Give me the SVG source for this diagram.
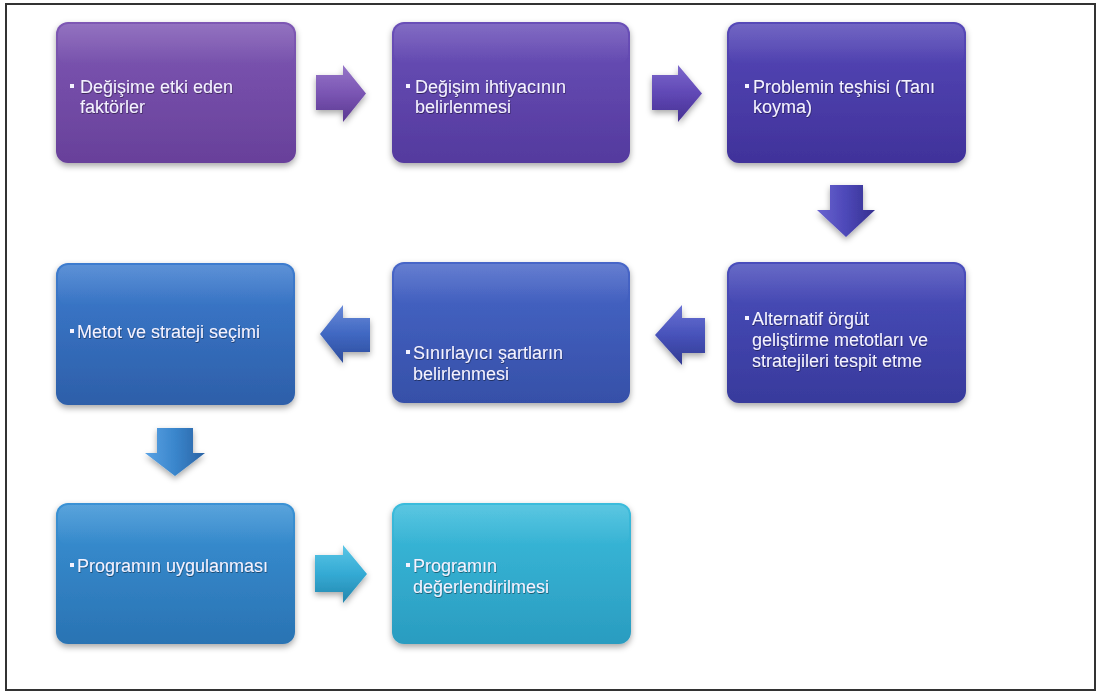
<svg xmlns="http://www.w3.org/2000/svg" width="1097" height="693" viewBox="0 0 1097 693">
<defs>
<filter id="sh" x="-10%" y="-10%" width="120%" height="130%">
<feDropShadow dx="0" dy="3" stdDeviation="3" flood-color="#000" flood-opacity="0.35"/>
</filter>
<filter id="tsh" x="-5%" y="-20%" width="110%" height="150%">
<feDropShadow dx="0.5" dy="1" stdDeviation="0.6" flood-color="#000" flood-opacity="0.45"/>
</filter>
<linearGradient id="g1" x1="0" y1="0" x2="0" y2="1"><stop offset="0" stop-color="#7e58b4"/><stop offset="1" stop-color="#68409a"/></linearGradient>
<linearGradient id="g2" x1="0" y1="0" x2="0" y2="1"><stop offset="0" stop-color="#6a50b8"/><stop offset="1" stop-color="#543a9e"/></linearGradient>
<linearGradient id="g3" x1="0" y1="0" x2="0" y2="1"><stop offset="0" stop-color="#5648b8"/><stop offset="1" stop-color="#40329a"/></linearGradient>
<linearGradient id="g4" x1="0" y1="0" x2="0" y2="1"><stop offset="0" stop-color="#4a4ebc"/><stop offset="1" stop-color="#383a9c"/></linearGradient>
<linearGradient id="g5" x1="0" y1="0" x2="0" y2="1"><stop offset="0" stop-color="#4766c8"/><stop offset="1" stop-color="#3650a8"/></linearGradient>
<linearGradient id="g6" x1="0" y1="0" x2="0" y2="1"><stop offset="0" stop-color="#3d7ccf"/><stop offset="1" stop-color="#2d5fa9"/></linearGradient>
<linearGradient id="g7" x1="0" y1="0" x2="0" y2="1"><stop offset="0" stop-color="#3a92d5"/><stop offset="1" stop-color="#2a73b3"/></linearGradient>
<linearGradient id="g8" x1="0" y1="0" x2="0" y2="1"><stop offset="0" stop-color="#3bbcdc"/><stop offset="1" stop-color="#2a9cc0"/></linearGradient>
<linearGradient id="gloss" x1="0" y1="0" x2="0" y2="1"><stop offset="0" stop-color="#fff" stop-opacity="0.16"/><stop offset="1" stop-color="#fff" stop-opacity="0"/></linearGradient>
<linearGradient id="a1" x1="0" y1="0" x2="0" y2="1"><stop offset="0" stop-color="#9676c8"/><stop offset="0.5" stop-color="#7a55b3"/><stop offset="1" stop-color="#5a3890"/></linearGradient>
<linearGradient id="a2" x1="0" y1="0" x2="0" y2="1"><stop offset="0" stop-color="#7c68cc"/><stop offset="0.5" stop-color="#6048b5"/><stop offset="1" stop-color="#453092"/></linearGradient>
<linearGradient id="a3" x1="0" y1="0" x2="1" y2="0"><stop offset="0" stop-color="#6a64d0"/><stop offset="0.5" stop-color="#4d48b8"/><stop offset="1" stop-color="#35308f"/></linearGradient>
<linearGradient id="a4" x1="0" y1="0" x2="0" y2="1"><stop offset="0" stop-color="#6a72d4"/><stop offset="0.5" stop-color="#4752ba"/><stop offset="1" stop-color="#313a92"/></linearGradient>
<linearGradient id="a5" x1="0" y1="0" x2="0" y2="1"><stop offset="0" stop-color="#6a8ad8"/><stop offset="0.5" stop-color="#4068c2"/><stop offset="1" stop-color="#2d4c9c"/></linearGradient>
<linearGradient id="a6" x1="0" y1="0" x2="1" y2="0"><stop offset="0" stop-color="#5aa2e4"/><stop offset="0.5" stop-color="#3a86cc"/><stop offset="1" stop-color="#2a62a4"/></linearGradient>
<linearGradient id="a7" x1="0" y1="0" x2="0" y2="1"><stop offset="0" stop-color="#5ac6e6"/><stop offset="0.5" stop-color="#34aad4"/><stop offset="1" stop-color="#2486ad"/></linearGradient>
</defs>
<style>
.box{filter:url(#sh);}
.gl{fill:url(#gloss);}
.t{font-family:"Liberation Sans",Arial,sans-serif;font-size:18px;fill:#f4f2ff;filter:url(#tsh);}
.b{fill:#f4f2ff;}
.arr{filter:url(#sh);}
</style>
<rect x="6" y="4" width="1089" height="686" fill="#fff" stroke="#333" stroke-width="2"/>

<g id="connectors" class="arr">
<path d="M316,75 H343 V65 L366,93.5 L343,122 V110 H316 Z" fill="url(#a1)"/>
<path d="M652,75 H678 V65 L702,93.5 L678,122 V110 H652 Z" fill="url(#a2)"/>
<path d="M830,185 H863 V210 H875 L846,237 L817,210 H830 Z" fill="url(#a3)"/>
<path d="M705,318 H682 V305 L655,335 L682,365 V353 H705 Z" fill="url(#a4)"/>
<path d="M370,318 H343 V305 L320,334 L343,363 V352 H370 Z" fill="url(#a5)"/>
<path d="M157,428 H193 V453 H205 L175,476 L145,453 H157 Z" fill="url(#a6)"/>
<path d="M315,555 H343 V545 L367,574 L343,603 V592 H315 Z" fill="url(#a7)"/>
</g>

<g id="n1">
<rect class="box" x="56" y="22" width="240" height="141" rx="12" fill="url(#g1)"/>
<rect class="gl" x="58" y="24" width="236" height="40" rx="10"/>
<rect class="b" x="70" y="84" width="4" height="4"/>
<text class="t" x="80" y="93">Değişime etki eden</text>
<text class="t" x="80" y="113">faktörler</text>
</g>

<g id="n2">
<rect class="box" x="392" y="22" width="238" height="141" rx="12" fill="url(#g2)"/>
<rect class="gl" x="394" y="24" width="234" height="40" rx="10"/>
<rect class="b" x="406" y="84" width="4" height="4"/>
<text class="t" x="415" y="93">Değişim ihtiyacının</text>
<text class="t" x="415" y="113">belirlenmesi</text>
</g>

<g id="n3">
<rect class="box" x="727" y="22" width="239" height="141" rx="12" fill="url(#g3)"/>
<rect class="gl" x="729" y="24" width="235" height="40" rx="10"/>
<rect class="b" x="745" y="84" width="4" height="4"/>
<text class="t" x="753" y="93">Problemin teşhisi (Tanı</text>
<text class="t" x="753" y="113">koyma)</text>
</g>

<g id="n4">
<rect class="box" x="727" y="262" width="239" height="141" rx="12" fill="url(#g4)"/>
<rect class="gl" x="729" y="264" width="235" height="40" rx="10"/>
<rect class="b" x="745" y="316" width="4" height="4"/>
<text class="t" x="752" y="325">Alternatif örgüt</text>
<text class="t" x="752" y="346">geliştirme metotları ve</text>
<text class="t" x="752" y="367">stratejileri tespit etme</text>
</g>

<g id="n5">
<rect class="box" x="392" y="262" width="238" height="141" rx="12" fill="url(#g5)"/>
<rect class="gl" x="394" y="264" width="234" height="40" rx="10"/>
<rect class="b" x="406" y="350" width="4" height="4"/>
<text class="t" x="413" y="359">Sınırlayıcı şartların</text>
<text class="t" x="413" y="380">belirlenmesi</text>
</g>

<g id="n6">
<rect class="box" x="56" y="263" width="239" height="142" rx="12" fill="url(#g6)"/>
<rect class="gl" x="58" y="265" width="235" height="40" rx="10"/>
<rect class="b" x="70" y="329" width="4" height="4"/>
<text class="t" x="77" y="338">Metot ve strateji seçimi</text>
</g>

<g id="n7">
<rect class="box" x="56" y="503" width="239" height="141" rx="12" fill="url(#g7)"/>
<rect class="gl" x="58" y="505" width="235" height="40" rx="10"/>
<rect class="b" x="70" y="563" width="4" height="4"/>
<text class="t" x="77" y="572">Programın uygulanması</text>
</g>

<g id="n8">
<rect class="box" x="392" y="503" width="239" height="141" rx="12" fill="url(#g8)"/>
<rect class="gl" x="394" y="505" width="235" height="40" rx="10"/>
<rect class="b" x="406" y="563" width="4" height="4"/>
<text class="t" x="413" y="572">Programın</text>
<text class="t" x="413" y="593">değerlendirilmesi</text>
</g>
</svg>
